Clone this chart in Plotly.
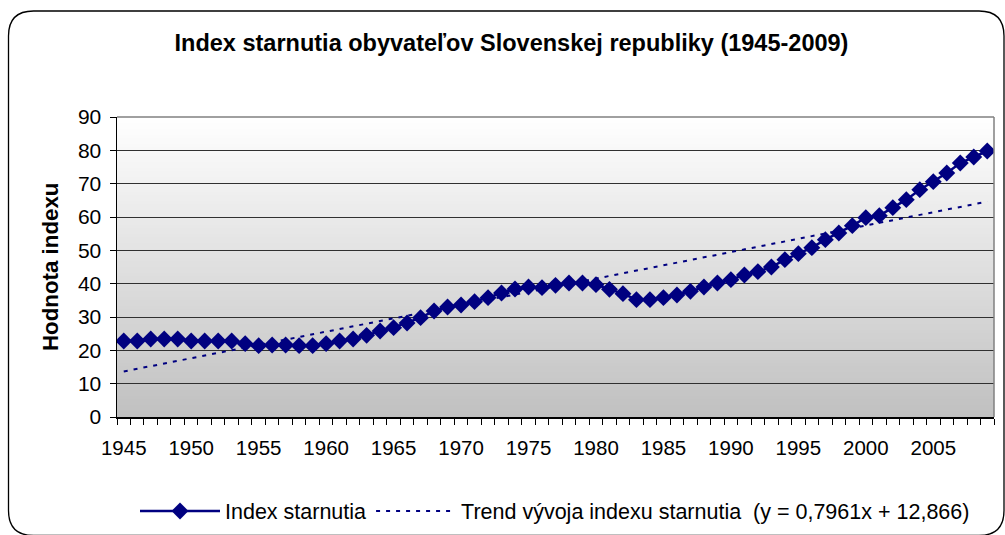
import plotly.graph_objects as go

# ---- data ----
years = list(range(1945, 2010))
index_starnutia = [
    22.8, 22.8, 23.4, 23.4, 23.4, 22.8, 22.8, 22.8, 22.8, 22.0,
    21.4, 21.6, 21.6, 21.4, 21.4, 22.0, 22.8, 23.4, 24.5, 25.8,
    26.8, 28.2, 29.8, 31.8, 33.0, 33.6, 34.6, 35.8, 37.2, 38.4,
    39.0, 38.8, 39.5, 40.2, 40.2, 39.7, 38.3, 37.0, 35.2, 35.2,
    35.8, 36.6, 37.7, 39.0, 40.2, 41.2, 42.6, 43.6, 45.0, 47.2,
    49.0, 50.8, 53.2, 55.2, 57.4, 59.8, 60.4, 62.8, 65.2, 68.2,
    70.6, 73.2, 76.2, 78.0, 79.8,
]
trend_slope = 0.7961
trend_intercept = 12.866
x_tick_years = list(range(1945, 2010, 5))
x_tick_labels = [str(y) for y in x_tick_years]
y_ticks = list(range(0, 100, 10))

title_text = "Index starnutia obyvateľov Slovenskej republiky (1945-2009)"
y_title = "Hodnota indexu"
name_series = "Index starnutia"
name_trend = "Trend vývoja indexu starnutia \u00a0(y = 0,7961x + 12,866)"

# linear trend line as stated in the legend (x = 1..n)
trend_values = [trend_slope * (i + 1) + trend_intercept for i in range(len(years))]

# ---- layout geometry (pixels) ----
W, H = 1005, 535
ML, MR, MT, MB = 117, 11, 117, 118
PW = W - ML - MR
PH = H - MT - MB


def px_x(p):
    return (p - ML) / PW


def px_y(p):
    return (H - MB - p) / PH


NAVY = "#000080"
FONT = "Liberation Sans, Arial, sans-serif"

fig = go.Figure()
fig.add_trace(go.Scatter(
    x=years, y=index_starnutia, name=name_series, mode="lines+markers",
    line=dict(color=NAVY, width=2.5),
    marker=dict(symbol="diamond", size=13, color=NAVY),
))
fig.add_trace(go.Scatter(
    x=years, y=trend_values, name=name_trend, mode="lines",
    line=dict(color=NAVY, width=2, dash="4px,6px"),
))

shapes = []
# gradient plot background (white at top -> grey at bottom)
n_bands = 100
for k in range(n_bands):
    t = (k + 0.5) / n_bands  # 0 at bottom, 1 at top
    v = int(round(192 + (255 - 192) * t))
    shapes.append(dict(
        type="rect", xref="paper", yref="paper",
        x0=0, x1=1, y0=k / n_bands, y1=(k + 1) / n_bands,
        fillcolor=f"rgb({v},{v},{v})", line=dict(width=0), layer="below",
    ))
# grey plot-area border on top and right
shapes.append(dict(type="line", xref="paper", yref="paper", x0=0, x1=1, y0=1, y1=1,
                   line=dict(color="#808080", width=1.5)))
shapes.append(dict(type="line", xref="paper", yref="paper", x0=1, x1=1, y0=0, y1=1,
                   line=dict(color="#808080", width=1.5)))

# rounded chart-area border
L, T, R, B, r = 8.5, 11, 1004, 535.5, 25
path = (
    f"M {px_x(L)},{px_y(T + r)} Q {px_x(L)},{px_y(T)} {px_x(L + r)},{px_y(T)} "
    f"L {px_x(R - r)},{px_y(T)} Q {px_x(R)},{px_y(T)} {px_x(R)},{px_y(T + r)} "
    f"L {px_x(R)},{px_y(B - r)} Q {px_x(R)},{px_y(B)} {px_x(R - r)},{px_y(B)} "
    f"L {px_x(L + r)},{px_y(B)} Q {px_x(L)},{px_y(B)} {px_x(L)},{px_y(B - r)} Z"
)
shapes.append(dict(type="path", xref="paper", yref="paper", path=path,
                   line=dict(color="black", width=1.3), layer="above"))

fig.update_layout(
    width=W, height=H,
    margin=dict(l=ML, r=MR, t=MT, b=MB, autoexpand=False),
    paper_bgcolor="white", plot_bgcolor="rgba(0,0,0,0)",
    font=dict(family=FONT, size=21, color="black"),
    title=dict(text=f"<b>{title_text}</b>", font=dict(family=FONT, size=23.5, color="black"),
               x=511.5 / W, xref="container", xanchor="center",
               y=1 - 43 / H, yref="container", yanchor="middle"),
    showlegend=True,
    legend=dict(orientation="h", x=px_x(555), xanchor="center", y=px_y(511), yanchor="middle",
                font=dict(family=FONT, size=21.5, color="black"), bgcolor="rgba(0,0,0,0)",
                itemwidth=80, tracegroupgap=0),
    shapes=shapes,
    annotations=[dict(text=f"<b>{y_title}</b>", xref="paper", yref="paper",
                      x=px_x(50), y=0.5, textangle=-90, showarrow=False,
                      xanchor="center", yanchor="middle",
                      font=dict(family=FONT, size=22.3, color="black"))],
)
fig.update_xaxes(
    range=[1944.5, 2009.5], tickvals=x_tick_years, ticktext=x_tick_labels,
    ticks="outside", ticklen=0, showgrid=False, zeroline=False,
    showline=True, linecolor="black", linewidth=1.5,
    minor=dict(tick0=1944.5, dtick=1, ticks="outside", ticklen=6, tickcolor="black",
               tickwidth=1, showgrid=False),
    tickfont=dict(size=20.5), ticklabelstandoff=12, fixedrange=True,
)
fig.update_yaxes(
    range=[0, 90], tickvals=y_ticks, ticks="outside", ticklen=6, tickcolor="black",
    showgrid=True, gridcolor="#303030", gridwidth=1, zeroline=False,
    showline=True, linecolor="black", linewidth=1.5,
    tickfont=dict(size=21), ticklabelstandoff=4, fixedrange=True,
)

fig.write_html("out.html", config={"displayModeBar": False, "staticPlot": True},
               post_script="document.body.style.margin='0';")
